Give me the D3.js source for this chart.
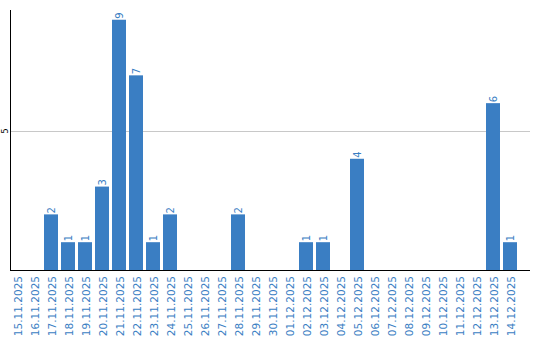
<!DOCTYPE html>
<html>
<head>
<meta charset="utf-8">
<script src="https://cdn.jsdelivr.net/npm/d3@7"></script>
<style>
body{margin:0;background:#fff;}
text{font-family:"DejaVu Sans",Verdana,sans-serif;}
</style>
</head>
<body>
<div class="container"></div>
<script>
var dates = ["15.11.2025","16.11.2025","17.11.2025","18.11.2025","19.11.2025","20.11.2025",
	"21.11.2025","22.11.2025","23.11.2025","24.11.2025","25.11.2025","26.11.2025","27.11.2025",
	"28.11.2025","29.11.2025","30.11.2025","01.12.2025","02.12.2025","03.12.2025","04.12.2025",
	"05.12.2025","06.12.2025","07.12.2025","08.12.2025","09.12.2025","10.12.2025","11.12.2025",
	"12.12.2025","13.12.2025","14.12.2025"];
var counts = [0,0,2,1,1,3,9,7,1,2,0,0,0,2,0,0,0,1,1,0,4,0,0,0,0,0,0,0,6,1];
var yTicks = [5];
var blue = "#3a7ec3";

var svg = d3.select('.container').append('svg')
	.attr("width", 540)
	.attr("height", 340);

var x = d3.scaleBand().domain(dates).range([10, 520]);
var y = d3.scaleLinear().domain([0, 9.35]).range([270, 10]);

// grid line
svg.selectAll('.grid').data(yTicks).enter()
	.append('line')
	.attr("x1", 10).attr("x2", 530)
	.attr("y1", function(d){return Math.round(y(d))+0.5;})
	.attr("y2", function(d){return Math.round(y(d))+0.5;})
	.attr("stroke", "#c8c8c8");

svg.selectAll('.ytick').data(yTicks).enter()
	.append('text')
	.attr("transform", function(d){return "translate(8,"+y(d)+") rotate(-90)";})
	.attr("text-anchor", "middle")
	.style("font-size", "8px")
	.text(function(d){return d;});

var data = dates.map(function(d,i){return {date:d, value:counts[i]};});
var bw = x.bandwidth() - 3;

svg.selectAll('.bar').data(data.filter(function(d){return d.value>0;})).enter()
	.append('rect')
	.attr("x", function(d){return x(d.date);})
	.attr("width", bw)
	.attr("y", function(d){return y(d.value);})
	.attr("height", function(d){return y(0)-y(d.value);})
	.attr("fill", blue);

svg.selectAll('.val').data(data.filter(function(d){return d.value>0;})).enter()
	.append('text')
	.attr("transform", function(d){return "translate("+(x(d.date)+bw/2)+","+(y(d.value)-1)+") rotate(-90)";})
	.attr("dy", ".35em")
	.attr("fill", blue)
	.style("font-size", "10px")
	.text(function(d){return d.value;});

svg.selectAll('.xlab').data(dates).enter()
	.append('text')
	.attr("transform", function(d){return "translate("+(x(d)+bw/2+1)+",276) rotate(-90)";})
	.attr("dy", ".35em")
	.attr("text-anchor", "end")
	.attr("fill", blue)
	.style("font-size", "10.5px")
	.text(function(d){return d;});

// axes
svg.append('line').attr("x1",10.5).attr("x2",10.5).attr("y1",10).attr("y2",270)
	.attr("stroke","#000");
svg.append('line').attr("x1",10).attr("x2",530).attr("y1",270.5).attr("y2",270.5)
	.attr("stroke","#000");
</script>
</body>
</html>
